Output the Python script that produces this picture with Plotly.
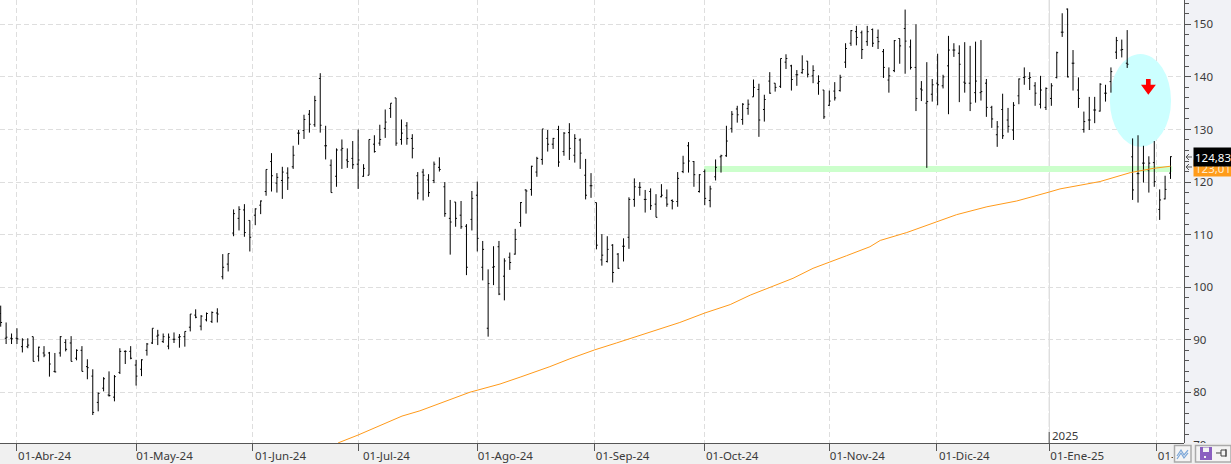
import plotly.graph_objects as go

W, H = 1231, 464
PLOT_R = 1184

high = [
    96.5,93.3,91.2,92.2,90.3,90.3,90.6,88.7,88.8,87.7,87.5,90.7,90.1,90.7,88.2,88.8,86.3,84.4,80.0,82.9,84.0,83.3,88.4,88.0,88.8,86.2,86.3,89.4,92.2,91.9,91.2,91.2,91.4,91.1,91.6,94.9,95.8,94.7,95.2,95.4,96.0,
    106.3,106.4,114.8,115.4,115.8,112.7,115.0,116.5,122.4,125.5,121.7,122.9,122.8,126.9,
    129.9,132.8,133.7,136.4,140.7,130.7,124.3,126.4,128.1,126.4,127.8,130.0,123.4,128.1,128.9,130.9,133.8,135.0,136.0,131.9,131.4,129.1,121.9,122.5,121.5,123.9,124.7,120.0,
    116.6,116.2,116.4,112.0,118.3,120.1,108.8,103.4,107.8,108.8,
    105.5,106.6,111.1,116.2,118.6,123.1,124.8,130.1,129.9,128.4,130.7,129.5,131.2,129.1,128.3,124.4,121.7,116.1,110.1,109.7,108.2,106.5,109.3,117.1,120.7,120.0,118.5,118.8,117.7,119.6,118.6,116.7,121.9,125.0,127.6,124.0,121.5,122.4,119.3,124.3,125.2,130.7,133.5,134.5,
    135.0,135.7,139.5,138.7,136.6,140.9,138.8,143.5,144.3,142.3,141.3,144.1,143.0,142.2,140.3,137.5,137.4,139.0,140.4,146.4,148.9,149.7,148.8,149.7,149.2,149.0,145.3,141.8,147.0,147.3,152.8,147.1,150.0,139.2,142.8,139.6,144.4,140.4,147.8,146.4,146.0,146.6,145.9,146.7,147.0,139.6,134.5,131.6,136.8,134.1,135.2,139.7,141.8,140.9,139.0,
    140.2,138.0,138.8,144.8,152.1,153.0,145.1,139.9,133.4,136.2,136.2,138.8,138.5,141.8,147.6,147.1,148.9,128.3,128.9,126.9,124.9,127.8,118.6,121.2,124.9,
]
low = [
    92.5,89.2,89.2,89.2,87.6,88.4,85.9,85.9,86.7,83.0,83.8,86.8,87.8,85.9,86.1,84.0,82.5,75.7,76.4,80.2,79.2,78.3,83.5,85.4,86.3,81.3,83.1,87.0,89.2,89.0,89.4,88.2,89.4,88.5,88.7,91.6,94.1,91.8,93.5,93.2,93.3,
    101.5,103.0,109.7,110.8,109.6,106.8,111.8,113.9,117.4,118.2,118.0,116.8,118.5,122.5,
    127.1,128.2,129.4,130.5,129.4,124.3,118.0,119.1,122.5,122.7,122.5,118.7,121.0,121.3,125.6,126.9,128.4,132.2,126.9,127.1,127.1,124.5,116.7,116.5,117.2,119.8,122.0,113.4,
    106.2,111.5,111.1,102.3,110.8,106.8,101.3,90.6,100.4,98.5,
    97.5,103.3,106.2,111.5,114.0,117.4,121.0,123.3,125.8,126.3,122.9,125.0,124.2,123.7,122.5,116.7,117.0,107.2,104.1,104.7,100.9,103.5,104.9,107.3,115.3,117.4,114.2,114.7,113.3,117.1,115.3,114.8,115.3,121.7,121.8,119.1,118.0,115.6,115.2,120.3,121.8,124.8,129.4,131.3,
    130.9,132.8,136.2,128.6,131.5,136.8,137.2,137.9,141.5,137.4,138.3,140.6,139.9,138.8,136.6,132.0,134.5,135.5,137.2,141.7,145.9,146.0,143.4,145.9,145.7,145.3,139.8,137.0,140.9,142.5,140.6,141.4,133.5,135.4,122.7,135.3,134.6,137.8,132.9,143.8,135.2,137.0,133.5,135.1,135.5,132.4,130.3,126.7,128.2,129.4,128.0,134.8,138.5,137.5,134.5,
    134.0,133.7,134.5,139.7,147.6,139.9,137.4,134.1,129.4,129.9,131.2,133.4,135.3,137.0,143.4,143.7,141.7,116.6,116.1,119.9,118.0,119.1,112.8,116.7,120.6,
]
open_ = [
    95.0,90.3,90.3,90.3,88.7,88.7,90.6,86.9,87.5,87.5,84.0,87.5,89.5,89.4,86.5,88.0,84.9,83.1,78.1,80.8,79.5,79.1,83.8,87.8,87.8,85.2,84.4,88.0,89.4,90.7,89.7,88.8,90.1,90.5,90.6,92.4,94.7,92.6,93.8,93.5,95.1,
    102.0,104.4,110.3,113.1,114.7,112.7,113.7,115.6,118.2,123.9,119.8,120.3,121.7,122.9,
    129.3,129.8,132.9,130.9,139.7,126.9,123.2,121.1,126.1,124.2,124.5,123.4,121.1,121.3,127.2,127.4,130.2,134.0,136.0,128.1,130.7,128.3,121.2,121.9,120.4,120.3,122.8,119.1,
    113.1,116.2,113.7,111.6,112.9,117.5,103.8,92.2,103.8,107.7,
    102.1,105.7,106.3,112.3,118.5,118.6,121.9,124.3,128.3,127.2,130.0,125.8,129.4,125.1,128.0,121.3,119.3,116.1,105.2,104.9,108.0,106.3,107.8,109.5,116.7,119.0,116.7,118.2,115.8,117.2,117.0,116.5,116.3,122.0,126.9,123.9,118.2,122.0,116.5,121.0,124.8,125.0,130.2,133.9,
    131.9,134.0,136.2,137.6,133.8,139.2,138.8,138.2,142.8,142.1,140.4,140.8,143.0,140.2,138.8,137.5,134.6,137.3,137.4,142.8,146.4,148.6,148.4,146.7,149.0,147.5,144.8,139.4,141.2,147.3,149.2,145.7,141.8,137.7,135.0,136.7,138.8,138.3,142.1,145.1,144.5,139.0,138.8,137.0,137.0,138.8,134.2,129.0,133.8,131.8,129.9,136.4,139.9,139.7,138.3,
    134.8,134.2,135.9,139.9,148.5,152.9,142.6,137.5,130.0,131.8,133.7,133.5,136.9,139.1,144.7,145.1,142.6,124.8,121.6,123.6,122.3,123.7,114.8,116.8,121.7,
]
close = [
    93.3,90.5,90.2,90.2,90.0,89.0,85.9,88.6,87.1,85.4,83.9,90.6,88.2,85.9,88.0,84.0,84.7,76.2,79.8,82.6,79.4,83.0,87.8,87.8,86.5,83.1,86.2,89.2,92.2,90.9,90.6,90.5,90.1,90.6,91.6,94.9,94.3,94.5,95.0,95.2,94.9,
    103.8,106.4,114.0,114.8,110.4,109.5,114.9,116.4,122.4,121.2,120.9,121.9,120.8,125.1,
    129.3,131.9,131.0,135.5,130.8,126.9,118.0,126.1,126.4,123.9,123.3,124.2,122.6,128.1,125.8,128.1,131.4,135.0,127.4,129.3,128.3,126.4,117.9,121.3,118.0,123.4,122.4,114.0,
    112.4,113.1,111.5,103.8,116.9,109.3,107.2,100.7,103.9,98.7,
    105.0,104.7,109.1,116.1,118.3,123.0,124.5,130.1,127.2,128.3,123.8,129.3,126.4,128.3,125.5,117.5,119.3,108.0,106.1,107.2,102.8,103.6,107.8,116.7,119.1,119.0,116.7,115.5,113.3,117.5,115.8,116.3,120.7,123.6,124.0,121.4,121.4,116.9,118.7,122.8,125.0,127.8,132.9,132.8,
    134.8,134.8,138.0,131.8,135.7,136.9,138.0,143.5,143.5,139.5,140.4,141.4,140.5,141.2,139.1,132.4,135.4,136.0,139.9,145.4,148.8,147.5,145.2,148.6,146.4,146.7,141.8,140.2,146.9,145.9,146.8,141.8,135.9,137.5,135.3,138.5,138.5,140.0,145.1,145.1,142.4,138.8,135.0,139.2,137.2,134.2,132.0,130.5,128.8,130.6,134.6,139.6,140.0,139.9,136.9,
    137.5,137.8,138.3,144.6,148.5,140.0,142.6,135.9,131.5,131.8,133.7,138.6,136.9,141.0,146.9,145.2,142.4,118.5,121.6,123.6,123.6,120.1,116.6,118.6,124.83,
]
assert len(high) == len(low) == len(open_) == len(close), (len(high), len(low), len(open_), len(close))
bar_index = list(range(-3, len(high) - 3))

ma_index = [59.3, 63, 71.1, 74.4, 83.65, 86.1, 89.2, 92.9, 98.4, 102.1, 106.7, 110.7, 114.4, 118.1, 122.4, 127, 131.7, 135.4,
            139.6, 143.3, 147, 150, 153.2, 157.5, 159.4, 164.3, 169.9, 173.5, 179.1, 184.6, 190.6, 192.6, 196.3, 200, 205.6, 209.8, 213]
ma_value = [70.4, 71.9, 75.5, 76.5, 80.04, 80.7, 81.6, 82.9, 84.9, 86.4, 88.1, 89.4, 90.6, 91.9, 93.3, 95.1, 96.7, 98.5,
            100.2, 101.7, 103.6, 104.7, 106.0, 107.7, 108.9, 110.4, 112.4, 113.8, 115.3, 116.4, 118.1, 118.7, 119.4, 120.1, 121.8, 122.6, 123.01]

tick_index = [-0.08, 22.07, 43.49, 63.06, 85.0, 106.67, 126.9, 150.0, 169.75, 190.6, 210.4]
tick_label = ["01-Abr-24", "01-May-24", "01-Jun-24", "01-Jul-24", "01-Ago-24", "01-Sep-24", "01-Oct-24", "01-Nov-24", "01-Dic-24", "01-Ene-25", "01-Feb-25"]
price_ticks = [70, 80, 90, 100, 110, 120, 130, 140, 150]
last_price = "124,83"
last_ma = "123,01"

FONT = "Noto Sans"
TXT = "#3a3a3a"
GRID = "#dedede"
AXIS = "#555555"


def px(x):
    return x / PLOT_R


def py(y):
    return (H - y) / H


def rect(x0, y0, x1, y1, fill, line=None, layer="above", lw=1):
    return dict(type="rect", xref="paper", yref="paper", x0=px(x0), x1=px(x1), y0=py(y0), y1=py(y1),
                fillcolor=fill, line=dict(color=line or fill, width=lw if line else 0), layer=layer)


def poly(points, fill=None, line=None, lw=1, close_path=True, layer="above"):
    d = "M " + " L ".join(f"{px(a):.5f},{py(b):.5f}" for a, b in points) + (" Z" if close_path else "")
    return dict(type="path", xref="paper", yref="paper", path=d, fillcolor=fill or "rgba(0,0,0,0)",
                line=dict(color=line or "rgba(0,0,0,0)", width=lw if line else 0), layer=layer)


fig = go.Figure()
fig.add_trace(go.Ohlc(
    x=bar_index, open=open_, high=high, low=low, close=close,
    increasing=dict(line=dict(color="black", width=1)),
    decreasing=dict(line=dict(color="black", width=1)),
    tickwidth=0.25, hoverinfo="skip", showlegend=False,
))
fig.add_trace(go.Scatter(x=ma_index, y=ma_value, mode="lines", line=dict(color="#ff9a1a", width=1),
                         hoverinfo="skip", showlegend=False))

shapes = [
    # chrome behind the plot
    rect(0, 443, PLOT_R, H, "#f0f0f0", layer="below"),
    rect(PLOT_R, 0, W, 443, "#f1f2f6", layer="below"),
    # ellipse, band, arrow
    dict(type="circle", xref="x", yref="y", x0=201.8, x1=213.1, y0=126.7, y1=144.35,
         fillcolor="#ccffff", line=dict(width=0), layer="between"),
    dict(type="rect", xref="x", yref="y", x0=126.9, x1=213.3, y0=121.9, y1=123.06,
         fillcolor="#ccffcc", line=dict(width=0), layer="between"),
    dict(type="path", xref="x", yref="y",
         path="M 208.47,139.6 L 209.33,139.6 L 209.33,138.5 L 210.3,138.5 L 208.9,136.6 L 207.55,138.5 L 208.47,138.5 Z",
         fillcolor="#ff0000", line=dict(width=0), layer="above"),
    # year boundary
    dict(type="line", xref="x", yref="paper", x0=190.6, x1=190.6, y0=py(443), y1=1,
         line=dict(color="#cfcfcf", width=1, dash="14px,2px"), layer="between"),
    dict(type="line", xref="x", yref="paper", x0=190.6, x1=190.6, y0=py(443), y1=py(432),
         line=dict(color=AXIS, width=1), layer="above"),
    # price-tag pointers
    poly([(1192, 157), (1186, 157)], line="#555555", close_path=False),
    poly([(1189, 154), (1186, 157), (1189, 160)], line="#555555", close_path=False),
    poly([(1192, 167), (1186, 167)], line="#555555", close_path=False),
    poly([(1189, 164), (1186, 167), (1189, 170)], line="#555555", close_path=False),
    # lower-right corner and toolbar
    rect(PLOT_R, 443, W, H, "#f0f0f0"),
    rect(1173, 444, W, H, "#f0f0f0"),
    rect(1174.5, 445.5, 1191, 462, "#f4f4f4", "#aaaaaa", lw=1.5),
    rect(1195.5, 445.5, 1231, 462, "#f4f4f4", "#aaaaaa", lw=1.5),
    poly([(1177, 456), (1181, 450), (1184, 455), (1188, 450)], line="#7aa6d8", lw=1.2, close_path=False),
    poly([(1177, 459), (1181, 453), (1184, 458), (1188, 453)], line="#7aa6d8", lw=1.2, close_path=False),
    rect(1200, 447, 1212, 460, "#8a5fc0"),
    rect(1203, 447.5, 1209, 452, "#f4f4f4"),
    rect(1204, 456, 1206, 458, "#f4f4f4"),
    rect(1221, 450, 1226, 456, "#f4f4f4", "#444444", lw=1),
    poly([(1216, 453), (1221, 453)], line="#444444", lw=1, close_path=False),
    poly([(1226, 449), (1226, 457)], line="#444444", lw=1, close_path=False),
]


def tag(text, y, x=1193, width=38, height=18, bg="black", color="white"):
    return dict(text=text, xref="paper", yref="paper", x=px(x), y=py(y), xanchor="left", yanchor="middle",
                showarrow=False, bgcolor=bg, width=width, height=height, borderpad=0, align="center",
                font=dict(family=FONT, size=11.5, color=color))


annotations = [
    dict(text="2025", xref="x", yref="paper", x=190.6, y=py(435), xanchor="left", yanchor="middle", xshift=1,
         showarrow=False, font=dict(family=FONT, size=11.5, color=TXT)),
    tag(last_ma, 168, height=16, bg="#ff9c1a", color="#ffeccf"),
    tag(last_price, 157, height=18),
]

fig.update_layout(
    width=W, height=H, autosize=False,
    margin=dict(l=0, r=W - PLOT_R, t=0, b=0, pad=0, autoexpand=False),
    paper_bgcolor="rgba(255,255,255,0)", plot_bgcolor="rgba(255,255,255,0)",
    showlegend=False, shapes=shapes, annotations=annotations,
    xaxis=dict(
        type="linear", range=[-3.13, 215.49], domain=[0, 1], anchor="free", position=21 / H, automargin=False,
        tickmode="array", tickvals=tick_index, ticktext=tick_label, ticks="outside", ticklen=7, tickwidth=1,
        tickcolor=AXIS, showline=True, linecolor=AXIS, linewidth=1, mirror=False,
        showgrid=True, gridcolor=GRID, gridwidth=1, griddash="5px,3px", zeroline=False,
        rangeslider=dict(visible=False), ticklabelshift=28, ticklabelstandoff=-5,
        tickfont=dict(family=FONT, size=11.5, color=TXT), fixedrange=True,
    ),
    yaxis=dict(
        type="linear", range=[70.0, 154.62], domain=[19 / H, 1], side="right", anchor="x", automargin=False,
        tickmode="array", tickvals=price_ticks, ticktext=[str(v) for v in price_ticks],
        ticks="outside", ticklen=6, tickwidth=1, tickcolor=AXIS, showline=True, linecolor=AXIS, linewidth=1,
        showgrid=True, gridcolor=GRID, gridwidth=1, griddash="5px,3px", zeroline=False,
        minor=dict(tickmode="linear", tick0=70, dtick=2, ticks="outside", ticklen=4, tickcolor=AXIS, showgrid=False),
        tickfont=dict(family=FONT, size=11.5, color=TXT), fixedrange=True,
    ),
)

fig.write_html("out.html", config=dict(displayModeBar=False),
               post_script="document.body.style.margin='0';document.body.style.background='white';document.body.style.overflow='hidden';")
